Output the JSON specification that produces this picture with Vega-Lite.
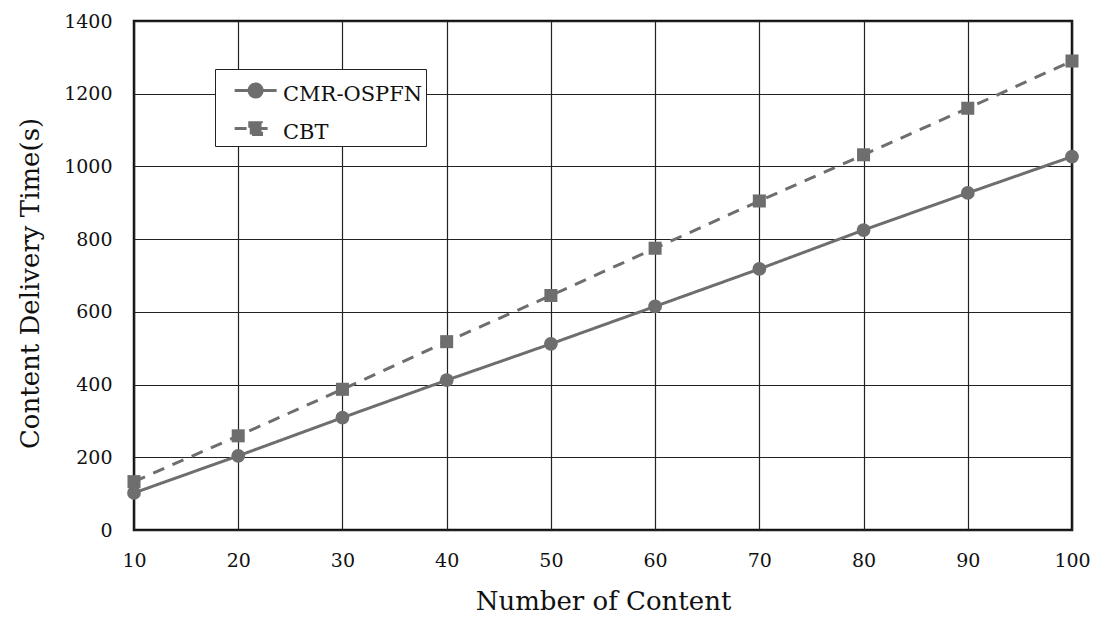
{
  "$schema": "https://vega.github.io/schema/vega-lite/v6.json",
  "width": 938,
  "height": 509,
  "autosize": {"type": "none"},
  "padding": {"left": 134, "top": 21, "right": 24, "bottom": 88},
  "background": "white",
  "config": {
    "font": "DejaVu Serif",
    "view": {"stroke": "#111", "strokeWidth": 2.5},
    "axis": {
      "labelFont": "DejaVu Serif",
      "titleFont": "DejaVu Serif",
      "labelColor": "#111",
      "titleColor": "#111",
      "labelFontSize": 19,
      "titleFontSize": 26,
      "titleFontWeight": "normal",
      "gridColor": "#222",
      "gridWidth": 1.2,
      "gridOpacity": 1,
      "ticks": false,
      "domain": false,
      "labelFlush": false
    }
  },
  "data": {
    "values": [
      {"n": 10, "t": 102, "s": "CMR-OSPFN"},
      {"n": 20, "t": 204, "s": "CMR-OSPFN"},
      {"n": 30, "t": 309, "s": "CMR-OSPFN"},
      {"n": 40, "t": 412, "s": "CMR-OSPFN"},
      {"n": 50, "t": 512, "s": "CMR-OSPFN"},
      {"n": 60, "t": 615, "s": "CMR-OSPFN"},
      {"n": 70, "t": 718, "s": "CMR-OSPFN"},
      {"n": 80, "t": 825, "s": "CMR-OSPFN"},
      {"n": 90, "t": 927, "s": "CMR-OSPFN"},
      {"n": 100, "t": 1027, "s": "CMR-OSPFN"},
      {"n": 10, "t": 133, "s": "CBT"},
      {"n": 20, "t": 259, "s": "CBT"},
      {"n": 30, "t": 387, "s": "CBT"},
      {"n": 40, "t": 518, "s": "CBT"},
      {"n": 50, "t": 645, "s": "CBT"},
      {"n": 60, "t": 775, "s": "CBT"},
      {"n": 70, "t": 905, "s": "CBT"},
      {"n": 80, "t": 1032, "s": "CBT"},
      {"n": 90, "t": 1160, "s": "CBT"},
      {"n": 100, "t": 1290, "s": "CBT"}
    ]
  },
  "encoding": {
    "x": {
      "field": "n", "type": "quantitative",
      "scale": {"domain": [10, 100], "nice": false, "zero": false},
      "axis": {"values": [10, 20, 30, 40, 50, 60, 70, 80, 90, 100], "title": "Number of Content", "labelPadding": 21, "titlePadding": 18}
    },
    "y": {
      "field": "t", "type": "quantitative",
      "scale": {"domain": [0, 1400], "nice": false},
      "axis": {"values": [0, 200, 400, 600, 800, 1000, 1200, 1400], "format": "d", "title": "Content Delivery Time(s)", "labelPadding": 22, "titlePadding": 20, "titleY": 262}
    }
  },
  "layer": [
    {
      "mark": {"type": "line", "color": "#6e6e6e", "strokeWidth": 3},
      "encoding": {
        "strokeDash": {
          "field": "s", "type": "nominal",
          "scale": {"domain": ["CMR-OSPFN", "CBT"], "range": [[1, 0], [12, 9]]},
          "legend": {
            "title": null,
            "orient": "none",
            "legendX": 81,
            "legendY": 48,
            "direction": "vertical",
            "fillColor": "white",
            "strokeColor": "#222",
            "padding": 3,
            "rowPadding": 5,
            "labelFontSize": 21,
            "labelFont": "DejaVu Serif",
            "labelColor": "#111",
            "labelOffset": 20,
            "symbolSize": 1764,
            "symbolStrokeWidth": 3,
            "symbolStrokeColor": "#6e6e6e",
            "symbolFillColor": "#6e6e6e",
            "encode": {
              "symbols": {
                "update": {
                  "shape": {"signal": "datum.value === 'CBT' ? 'M-0.28,-0.19H1.72M0.44,-0.47H1.0V0.09H0.44Z' : 'M-0.28,-0.19H1.72M0.41,-0.19A0.31,0.31,0,1,1,1.03,-0.19A0.31,0.31,0,1,1,0.41,-0.19Z'"},
                  "fill": {"value": "#6e6e6e"},
                  "stroke": {"value": "#6e6e6e"},
                  "strokeWidth": {"value": 3}
                }
              }
            }
          }
        }
      }
    },
    {
      "transform": [{"filter": "datum.s === 'CMR-OSPFN'"}],
      "mark": {"type": "point", "filled": true, "shape": "circle", "color": "#6e6e6e", "opacity": 1, "size": 190}
    },
    {
      "transform": [{"filter": "datum.s === 'CBT'"}],
      "mark": {"type": "point", "filled": true, "shape": "square", "color": "#6e6e6e", "opacity": 1, "size": 170}
    }
  ]
}
